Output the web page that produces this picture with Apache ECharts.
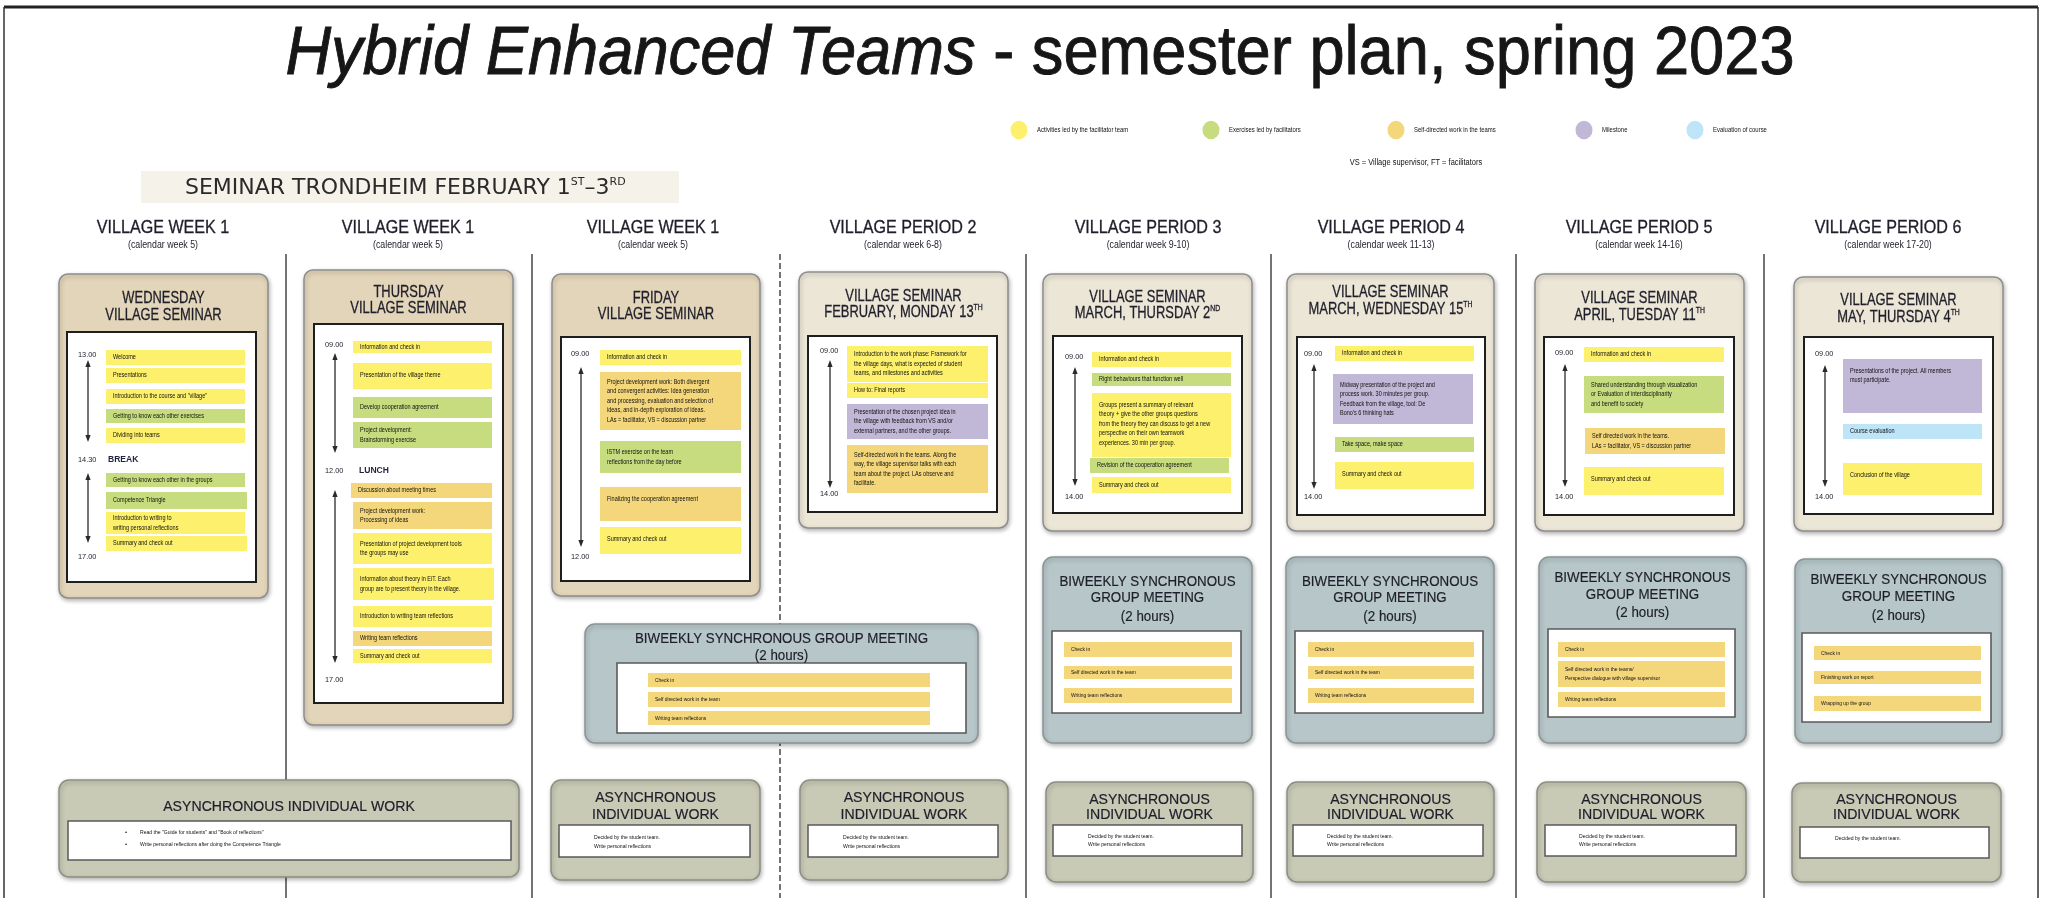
<!DOCTYPE html>
<html><head><meta charset="utf-8">
<script src="https://cdn.jsdelivr.net/npm/echarts@6/dist/echarts.min.js"></script>
<style>html,body{margin:0;padding:0;background:#fff}#c{width:2046px;height:898px}</style>
</head><body><div id="c"></div>
<script>
// ---------------- DATA ----------------
const titleItalic = 'Hybrid Enhanced Teams';
const titleRest = ' - semester plan, spring 2023';
const legendLabels = ['Activities led by the facilitator team','Exercises led by facilitators','Self-directed work in the teams','Milestone','Evaluation of course'];
const legendKeys = ['Y','G','O','P','B'];
const legendNote = 'VS = Village supervisor, FT = facilitators';
const bannerParts = ['SEMINAR TRONDHEIM FEBRUARY 1','ST','–3','RD'];
const columnTitles = ['VILLAGE WEEK 1','VILLAGE WEEK 1','VILLAGE WEEK 1','VILLAGE PERIOD 2','VILLAGE PERIOD 3','VILLAGE PERIOD 4','VILLAGE PERIOD 5','VILLAGE PERIOD 6'];
const columnSubtitles = ['(calendar week 5)','(calendar week 5)','(calendar week 5)','(calendar week 6-8)','(calendar week 9-10)','(calendar week 11-13)','(calendar week 14-16)','(calendar week 17-20)'];
const seminarTitles = [
  ['WEDNESDAY','VILLAGE SEMINAR'],
  ['THURSDAY','VILLAGE SEMINAR'],
  ['FRIDAY','VILLAGE SEMINAR'],
  ['VILLAGE SEMINAR','FEBRUARY, MONDAY 13{s|TH}'],
  ['VILLAGE SEMINAR','MARCH, THURSDAY 2{s|ND}'],
  ['VILLAGE SEMINAR','MARCH, WEDNESDAY 15{s|TH}'],
  ['VILLAGE SEMINAR','APRIL, TUESDAY 11{s|TH}'],
  ['VILLAGE SEMINAR','MAY, THURSDAY 4{s|TH}']
];
const seminarTimes = [
  ['13.00','14.30','17.00'],['09.00','12.00','17.00'],['09.00','12.00'],['09.00','14.00'],
  ['09.00','14.00'],['09.00','14.00'],['09.00','14.00'],['09.00','14.00']
];
const seminarBreaks = ['BREAK','LUNCH','','','','','',''];
const seminarItems = [
  [['Welcome','Y'],['Presentations','Y'],['Introduction to the course and "village"','Y'],['Getting to know each other exercises','G'],['Dividing into teams','Y'],['Getting to know each other in the groups','G'],['Competence Triangle','G'],['Introduction to writing to\nwriting personal reflections','Y'],['Summary and check out','Y']],
  [['Information and check in','Y'],['Presentation of the village theme','Y'],['Develop cooperation agreement','G'],['Project development:\nBrainstorming exercise','G'],['Discussion about meeting times','O'],['Project development work:\nProcessing of ideas','O'],['Presentation of project development tools\nthe groups may use','Y'],['Information about theory in EiT. Each\ngroup are to present theory in the village.','Y'],['Introduction to writing team reflections','Y'],['Writing team reflections','O'],['Summary and check out','Y']],
  [['Information and check in','Y'],['Project development work: Both divergent\nand convergent activities: Idea generation\nand processing, evaluation and selection of\nideas, and in-depth exploration of ideas.\nLAs = facilitator, VS = discussion partner','O'],['ISTM exercise on the team\nreflections from the day before','G'],['Finalizing the cooperation agreement','O'],['Summary and check out','Y']],
  [['Introduction to the work phase: Framework for\nthe village days, what is expected of student\nteams, and milestones and activities','Y'],['How to: Final reports','Y'],['Presentation of the chosen project idea in\nthe village with feedback from VS and/or\nexternal partners, and the other groups.','P'],['Self-directed work in the teams. Along the\nway, the village supervisor talks with each\nteam about the project. LAs observe and\nfacilitate.','O']],
  [['Information and check in','Y'],['Right behaviours that function well','G'],['Groups present a summary of relevant\ntheory + give the other groups questions\nfrom the theory they can discuss to get a new\nperspective on their own teamwork\nexperiences. 30 min per group.','Y'],['Revision of the cooperation agreement','G'],['Summary and check out','Y']],
  [['Information and check in','Y'],['Midway presentation of the project and\nprocess work. 30 minutes per group.\nFeedback from the village, tool: De\nBono\'s 6 thinking hats','P'],['Take space, make space','G'],['Summary and check out','Y']],
  [['Information and check in','Y'],['Shared understanding through visualization\nor Evaluation of interdisciplinarity\nand benefit to society','G'],['Self directed work in the teams.\nLAs = facilitator, VS = discussion partner','O'],['Summary and check out','Y']],
  [['Presentations of the project. All members\nmust participate.','P'],['Course evaluation','B'],['Conclusion of the village','Y']]
];
const biweeklyTitles = [
  ['BIWEEKLY SYNCHRONOUS GROUP MEETING','(2 hours)'],
  ['BIWEEKLY SYNCHRONOUS','GROUP MEETING','(2 hours)'],
  ['BIWEEKLY SYNCHRONOUS','GROUP MEETING','(2 hours)'],
  ['BIWEEKLY SYNCHRONOUS','GROUP MEETING','(2 hours)'],
  ['BIWEEKLY SYNCHRONOUS','GROUP MEETING','(2 hours)']
];
const biweeklyItems = [
  ['Check in','Self directed work in the team','Writing team reflections'],
  ['Check in','Self directed work in the team','Writing team reflections'],
  ['Check in','Self directed work in the team','Writing team reflections'],
  ['Check in','Self directed work in the teams/\nPerspective dialogue with village supervisor','Writing team reflections'],
  ['Check in','Finishing work on report','Wrapping up the group']
];
const asyncTitles = [
  ['ASYNCHRONOUS INDIVIDUAL WORK'],
  ['ASYNCHRONOUS','INDIVIDUAL WORK'],['ASYNCHRONOUS','INDIVIDUAL WORK'],['ASYNCHRONOUS','INDIVIDUAL WORK'],
  ['ASYNCHRONOUS','INDIVIDUAL WORK'],['ASYNCHRONOUS','INDIVIDUAL WORK'],['ASYNCHRONOUS','INDIVIDUAL WORK']
];
const asyncTexts = [
  ['Read the "Guide for students" and "Book of reflections"','Write personal reflections after doing the Competence Triangle'],
  ['Decided by the student team.','Write personal reflections'],
  ['Decided by the student team.','Write personal reflections'],
  ['Decided by the student team.','Write personal reflections'],
  ['Decided by the student team.','Write personal reflections'],
  ['Decided by the student team.','Write personal reflections'],
  ['Decided by the student team.']
];

// ---------------- LAYOUT / STYLE ----------------
const FONT = '"Liberation Sans", Arial, Helvetica, sans-serif';
const COLORS = {Y:'#fdf06c', G:'#c6dc7e', O:'#f5d77b', P:'#c1b8d7', B:'#bee4f7'};
const TXT = '#1e1e2a';
const colCenters = [163,408,653,903,1148,1391,1639,1888];
const separators = [[286,false],[532,false],[780,true],[1026,false],[1271,false],[1516,false],[1764,false]];
const legendDotX = [1019,1211,1396,1584,1695];
const semLayout = [
  {box:[59,274,268,598], inner:[67,332,256,582], ix:[106,245], tx:78, ty:[298,315], times:[355,460,557], brk:[108,460], arrows:[[360,442],[473,543]],
   items:[[350,365],[368,383],[389,404],[409,423],[428,443],[473,487],[492,509,null,247],[512,534],[536,551,null,247]]},
  {box:[304,270,513,725], inner:[314,324,503,703], ix:[353,492], tx:325, ty:[292,308], times:[345,471,680], brk:[359,471], arrows:[[353,453],[490,663]],
   items:[[341,353],[363,389],[397,418],[422,448],[483,498,351],[502,529],[533,564],[568,600,null,494],[606,627],[631,646],[649,663]]},
  {box:[552,274,760,596], inner:[561,337,750,581], ix:[600,741], tx:571, ty:[298,314], times:[354,557], arrows:[[367,547]],
   items:[[350,365],[372,430],[441,473],[487,521],[527,554]]},
  {box:[799,272,1008,528], inner:[808,336,997,512], ix:[847,988], tx:820, ty:[296,312], times:[351,494], arrows:[[360,488]],
   items:[[346,382],[383,398],[404,439],[445,493]]},
  {box:[1043,274,1252,531], inner:[1053,336,1242,513], ix:[1092,1231], tx:1065, ty:[297,313], times:[357,497], arrows:[[367,486]],
   items:[[352,367],[373,386],[393,457],[458,473,1090,1229],[477,493]]},
  {box:[1287,274,1494,531], inner:[1297,337,1485,515], ix:[1335,1474], tx:1304, ty:[292,309], times:[354,497], arrows:[[364,489]],
   items:[[346,361],[374,424,1333,1473],[437,452],[462,489]]},
  {box:[1535,274,1744,531], inner:[1544,337,1734,515], ix:[1584,1724], tx:1555, ty:[298,315], times:[353,497], arrows:[[364,487]],
   items:[[347,362],[376,413],[428,454,1585,1725],[467,495]]},
  {box:[1794,277,2003,531], inner:[1804,337,1993,514], ix:[1843,1982], tx:1815, ty:[300,317], times:[354,497], arrows:[[365,487]],
   items:[[359,413],[424,439],[463,495]]}
];
const biLayout = [
  {box:[585,624,978,743], ty:[639,656], inner:[617,663,966,733], ix:[648,930], items:[[673,687],[692,707],[711,725]]},
  {box:[1043,557,1252,743], ty:[582,598,617], inner:[1052,631,1241,713], ix:[1064,1232], items:[[642,657],[666,679],[688,703]]},
  {box:[1286,557,1494,743], ty:[582,598,617], inner:[1295,631,1483,713], ix:[1308,1474], items:[[642,657],[666,679],[688,703]]},
  {box:[1539,557,1746,743], ty:[578,595,613], inner:[1548,629,1735,717], ix:[1558,1725], items:[[642,657],[661,687],[692,707]]},
  {box:[1795,559,2002,743], ty:[580,597,616], inner:[1802,633,1991,722], ix:[1814,1981], items:[[646,660],[671,684],[696,711]]}
];
const asLayout = [
  {box:[59,780,519,877], ty:[807], inner:[68,821,511,860], tx:140, bullet:125, lines:[832,844]},
  {box:[551,780,760,880], ty:[798,815], inner:[559,825,750,857], tx:594, lines:[837,846]},
  {box:[800,780,1008,880], ty:[798,815], inner:[808,825,998,857], tx:843, lines:[837,846]},
  {box:[1046,782,1253,882], ty:[800,815], inner:[1053,825,1242,856], tx:1088, lines:[836,844]},
  {box:[1287,782,1494,882], ty:[800,815], inner:[1293,825,1483,856], tx:1327, lines:[836,844]},
  {box:[1537,782,1746,882], ty:[800,815], inner:[1545,825,1736,856], tx:1579, lines:[836,844]},
  {box:[1792,783,2001,882], ty:[800,815], inner:[1800,827,1989,858], tx:1835, lines:[838,846]}
];

// ---------------- BUILD GRAPHIC ----------------
const G = [];
function R(x0,y0,x1,y1,o){
  G.push({type:'rect', z:o.z||1, silent:true,
    shape:{x:x0,y:y0,width:x1-x0,height:y1-y0,r:o.r||0},
    style:{fill:o.fill||'none', stroke:o.stroke, lineWidth:o.lw||0,
      shadowBlur:o.sb||0, shadowColor:o.sc||'rgba(0,0,0,0)', shadowOffsetX:o.sox||0, shadowOffsetY:o.soy||0}});
}
function Ln(x1,y1,x2,y2,o){
  G.push({type:'line', z:o.z||1, silent:true, shape:{x1,y1,x2,y2},
    style:{stroke:o.stroke||'#222', lineWidth:o.lw||1, lineDash:o.dash||null}});
}
function T(x,y,text,o){
  o = o||{};
  const align=o.align||'center', va=o.va||'middle';
  const st = {text, fill:o.fill||TXT, fontSize:o.size||10, fontFamily:o.font||FONT,
    fontWeight:o.weight||'normal', fontStyle:o.italic?'italic':'normal',
    align, textAlign:align, verticalAlign:va, textVerticalAlign:va};
  if (o.lh) st.lineHeight = o.lh;
  if (o.rich) st.rich = o.rich;
  if (o.stroke) { st.stroke = o.stroke; st.lineWidth = o.slw || 0.5; }
  G.push({type:'text', x, y, z:o.z||20, scaleX:o.sx||1, silent:true, style:st});
}
function arrow(x,y0,y1){
  Ln(x,y0+4,x,y1-4,{stroke:'#2a2a2a',lw:1.3,z:9});
  G.push({type:'polygon', z:9, silent:true, shape:{points:[[x,y0],[x-2.6,y0+7],[x+2.6,y0+7]]}, style:{fill:'#2a2a2a'}});
  G.push({type:'polygon', z:9, silent:true, shape:{points:[[x,y1],[x-2.6,y1-7],[x+2.6,y1-7]]}, style:{fill:'#2a2a2a'}});
}
function itemBox(x0,y0,x1,y1,text,color,o){
  R(x0,y0,x1,y1,{fill:color,z:8});
  const lh=o.lh, n=text.split('\n').length, th=n*lh, h=y1-y0;
  const off=Math.max(0,Math.min((h-th)/2,7));
  T(x0+7,y0+off,text,{align:'left',va:'top',size:o.size,lh,sx:o.sx,fill:'#111',z:12});
}
const boxShadow = {sb:4, sc:'rgba(0,0,0,0.28)', sox:1, soy:2};

// frame
Ln(4,7,2038,7,{stroke:'#222',lw:3,z:1});
Ln(4,7,4,898,{stroke:'#333',lw:1.5,z:1});
Ln(2038,7,2038,898,{stroke:'#333',lw:1.5,z:1});

// title
T(1040,55,'{i|'+titleItalic+'}{n|'+titleRest+'}',{sx:0.93,stroke:'#161616',slw:0.9,rich:{
  i:{fontSize:68,fontStyle:'italic',fontFamily:FONT,fill:'#161616',stroke:'#161616',lineWidth:0.9},
  n:{fontSize:68,fontFamily:FONT,fill:'#161616',stroke:'#161616',lineWidth:0.9}}});

// legend
legendLabels.forEach((lab,i)=>{
  G.push({type:'circle', z:3, silent:true, shape:{cx:legendDotX[i],cy:130,r:8.5}, scaleY:1.1, originX:legendDotX[i], originY:130, style:{fill:COLORS[legendKeys[i]]}});
  T(legendDotX[i]+18,130,lab,{align:'left',size:7,sx:0.85,fill:'#111'});
});
T(1416,163,legendNote,{size:8.5,sx:0.88,fill:'#111'});

// banner
R(141,171,679,203,{fill:'#f5f2e9',z:2});
T(185,188,'{m|'+bannerParts[0]+'}{s|'+bannerParts[1]+'}{m|'+bannerParts[2]+'}{s|'+bannerParts[3]+'}',{align:'left',rich:{
  m:{fontSize:22,fontFamily:'"DejaVu Sans", sans-serif',fill:'#2a2a2a'},
  s:{fontSize:11,verticalAlign:'top',fontFamily:'"DejaVu Sans", sans-serif',fill:'#2a2a2a'}}});

// column headers
columnTitles.forEach((t,i)=>{
  T(colCenters[i],228,t,{size:17.5,sx:0.92,stroke:TXT,slw:0.3});
  T(colCenters[i],245,columnSubtitles[i],{size:10,sx:0.88});
});

// separators
separators.forEach(([x,d])=>Ln(x,254,x,898,{stroke:'#2a2a2a',lw:1.3,dash:d?[6,3]:null,z:1}));

// seminar boxes
semLayout.forEach((L,i)=>{
  const [bx0,by0,bx1,by1]=L.box, cx=(bx0+bx1)/2;
  R(bx0,by0,bx1,by1,Object.assign({fill:i<3?'#e3d5b9':'#ece6d7',stroke:'#8d8d8d',lw:1.5,r:9,z:4},boxShadow));
  seminarTitles[i].forEach((t,k)=>T(cx,L.ty[k],t,{size:17,sx:0.76,z:21,stroke:TXT,slw:0.3,rich:{s:{fontSize:9,verticalAlign:'top',fontFamily:FONT,fill:TXT}}}));
  R(L.inner[0],L.inner[1],L.inner[2],L.inner[3],{fill:'#ffffff',stroke:'#1e1e1e',lw:2,z:6});
  seminarItems[i].forEach(([txt,c],k)=>{
    const it=L.items[k];
    const x0=it[2]!=null?it[2]:L.ix[0], x1=it[3]!=null?it[3]:L.ix[1];
    itemBox(x0,it[0],x1,it[1],txt,COLORS[c],{size:6.5,lh:9.5,sx:0.85});
  });
  seminarTimes[i].forEach((t,k)=>T(L.tx,L.times[k],t,{align:'left',size:8,sx:0.92,fill:'#1d1d2a'}));
  if (seminarBreaks[i]) T(L.brk[0],L.brk[1],seminarBreaks[i],{align:'left',size:9,weight:'bold',sx:0.95,fill:'#1f2340'});
  L.arrows.forEach(([a,b])=>arrow(L.tx+10,a,b));
});

// biweekly boxes
biLayout.forEach((L,i)=>{
  const [bx0,by0,bx1,by1]=L.box, cx=(bx0+bx1)/2;
  R(bx0,by0,bx1,by1,Object.assign({fill:'#b7c7c9',stroke:'#8a9496',lw:1.5,r:10,z:4},boxShadow));
  biweeklyTitles[i].forEach((t,k)=>T(cx,L.ty[k],t,{size:15.5,sx:0.86,z:21,stroke:TXT,slw:0.2}));
  R(L.inner[0],L.inner[1],L.inner[2],L.inner[3],{fill:'#ffffff',stroke:'#5a5a5a',lw:1.6,z:6});
  biweeklyItems[i].forEach((txt,k)=>{
    const it=L.items[k];
    itemBox(L.ix[0],it[0],L.ix[1],it[1],txt,COLORS.O,{size:6,lh:9,sx:0.82});
  });
});

// asynchronous boxes
asLayout.forEach((L,i)=>{
  const [bx0,by0,bx1,by1]=L.box, cx=(bx0+bx1)/2;
  R(bx0,by0,bx1,by1,Object.assign({fill:'#c8cab6',stroke:'#8d8f82',lw:1.5,r:10,z:4},boxShadow));
  asyncTitles[i].forEach((t,k)=>T(cx,L.ty[k],t,{size:15.5,sx:0.91,z:21,stroke:TXT,slw:0.2}));
  R(L.inner[0],L.inner[1],L.inner[2],L.inner[3],{fill:'#ffffff',stroke:'#5a5a5a',lw:1.5,z:6});
  asyncTexts[i].forEach((t,k)=>{
    if (L.bullet) T(L.bullet,L.lines[k],'•',{align:'left',size:6,fill:'#111'});
    T(L.tx,L.lines[k],t,{align:'left',size:6.2,sx:0.82,fill:'#111'});
  });
});

const chart = echarts.init(document.getElementById('c'), null, {renderer:'canvas'});
chart.setOption({backgroundColor:'#ffffff', animation:false, graphic:{elements:G}});
</script></body></html>
